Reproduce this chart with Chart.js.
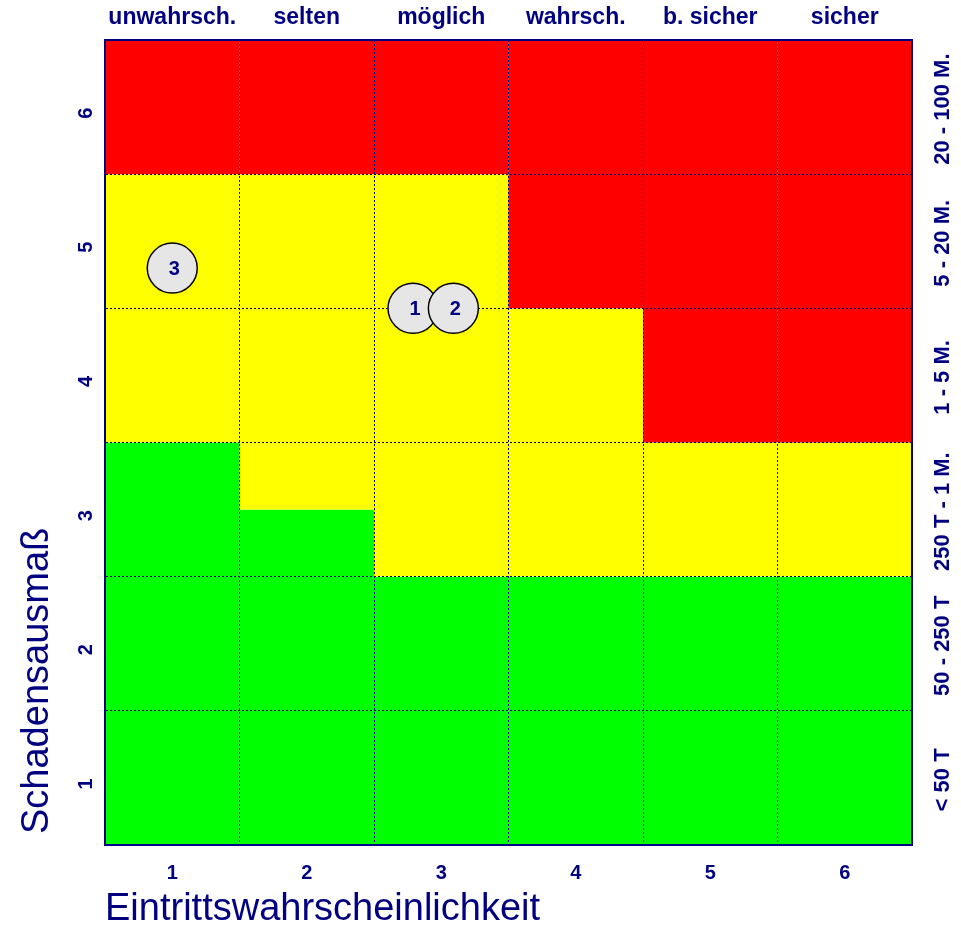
<!DOCTYPE html>
<html>
<head>
<meta charset="utf-8">
<script src="https://cdn.jsdelivr.net/npm/chart.js@4.4.0/dist/chart.umd.min.js"></script>
<style>
  html, body { margin: 0; padding: 0; background: #ffffff; }
  #wrap { width: 961px; height: 930px; position: relative; }
</style>
</head>
<body>
<div id="wrap"><canvas id="c"></canvas></div>
<script>
// ---- data ----
const probabilityTicks = [1, 2, 3, 4, 5, 6];
const probabilityLabels = ['unwahrsch.', 'selten', 'möglich', 'wahrsch.', 'b. sicher', 'sicher'];
const damageTicks = [1, 2, 3, 4, 5, 6];
const damageLabels = ['< 50 T', '50 - 250 T', '250 T - 1 M.', '1 - 5 M.', '5 - 20 M.', '20 - 100 M.'];
// upper limit (in damage units) of the green and yellow zone, per probability column
const greenUpper = [3.5, 3.0, 2.5, 2.5, 2.5, 2.5];
const yellowUpper = [5.5, 5.5, 5.5, 4.5, 3.5, 3.5];
// risks
const riskIds = ['1', '2', '3'];
const riskProbability = [2.79, 3.09, 1.0];
const riskDamage = [4.5, 4.5, 4.8];

const NAVY = '#000080';
const FONT = '"Liberation Sans", Arial, Helvetica, sans-serif';
const AXIS_MIN = 0.5, AXIS_MAX = 6.5;

const zonePlugin = {
  id: 'zones',
  beforeDraw(chart) {
    const {ctx, scales: {x, y}} = chart;
    ctx.save();
    probabilityTicks.forEach((p, i) => {
      const x0 = x.getPixelForValue(p - 0.5);
      const x1 = x.getPixelForValue(p + 0.5);
      const bands = [
        [AXIS_MIN, greenUpper[i], '#00ff00'],
        [greenUpper[i], yellowUpper[i], '#ffff00'],
        [yellowUpper[i], AXIS_MAX, '#ff0000']
      ];
      bands.forEach(([a, b, col]) => {
        if (b <= a) return;
        const yA = y.getPixelForValue(a);
        const yB = y.getPixelForValue(b);
        ctx.fillStyle = col;
        ctx.fillRect(x0, yB, x1 - x0, yA - yB);
      });
    });
    ctx.restore();
  }
};

const textPlugin = {
  id: 'texts',
  afterDraw(chart) {
    const {ctx, scales: {x, y}} = chart;
    ctx.save();
    // labels inside bubbles
    const meta = chart.getDatasetMeta(0);
    ctx.fillStyle = NAVY;
    ctx.font = 'bold 20px ' + FONT;
    ctx.textAlign = 'center';
    ctx.textBaseline = 'middle';
    meta.data.forEach((pt, i) => {
      ctx.fillText(riskIds[i], pt.x + 2, pt.y + 1);
    });
    // rotated left tick labels
    ctx.font = 'bold 20px ' + FONT;
    damageTicks.forEach((v) => {
      ctx.save();
      ctx.translate(86, y.getPixelForValue(v) + 6);
      ctx.rotate(-Math.PI / 2);
      ctx.fillText(String(v), 0, 0);
      ctx.restore();
    });
    // rotated right labels
    ctx.font = 'bold 22px ' + FONT;
    damageTicks.forEach((v, i) => {
      ctx.save();
      ctx.translate(943, y.getPixelForValue(v) + 2);
      ctx.rotate(-Math.PI / 2);
      ctx.fillText(damageLabels[i], 0, 0);
      ctx.restore();
    });
    // y axis title
    ctx.font = '38px ' + FONT;
    ctx.textAlign = 'left';
    ctx.save();
    ctx.translate(38, 834);
    ctx.rotate(-Math.PI / 2);
    ctx.fillText('Schadensausmaß', 0, 0);
    ctx.restore();
    ctx.restore();
  }
};

const fixedTicks = (vals) => (scale) => { scale.ticks = vals.map(v => ({value: v})); };
const gridOpts = {
  display: true, offset: true, drawTicks: false, color: NAVY, lineWidth: 1
};

new Chart(document.getElementById('c'), {
  type: 'scatter',
  data: {
    datasets: [{
      data: riskProbability.map((p, i) => ({x: p, y: riskDamage[i]})),
      backgroundColor: '#e6e6e6',
      borderColor: '#000000',
      borderWidth: 1.5,
      pointRadius: 25,
      pointHoverRadius: 25,
      clip: false
    }]
  },
  options: {
    responsive: true,
    maintainAspectRatio: false,
    animation: false,
    layout: { padding: 0 },
    plugins: { legend: { display: false }, tooltip: { enabled: false } },
    events: [],
    scales: {
      x: {
        type: 'linear', position: 'bottom', min: AXIS_MIN, max: AXIS_MAX,
        afterBuildTicks: fixedTicks(probabilityTicks),
        afterFit: (s) => { s.height = 85; },
        grid: gridOpts,
        border: { display: true, color: NAVY, width: 2, dash: [2, 2] },
        ticks: { color: NAVY, font: { family: FONT, size: 20, weight: 'bold' }, padding: 16, callback: (v) => String(v) },
        title: { display: true, text: 'Eintrittswahrscheinlichkeit', align: 'start', color: NAVY,
                 font: { family: FONT, size: 38, lineHeight: 1.0 }, padding: { top: 0, bottom: 1 } }
      },
      x2: {
        type: 'linear', position: 'top', min: AXIS_MIN, max: AXIS_MAX,
        afterBuildTicks: fixedTicks(probabilityTicks),
        afterFit: (s) => { s.height = 40; },
        grid: { display: false, drawTicks: false },
        border: { display: true, color: NAVY, width: 2 },
        ticks: { color: NAVY, font: { family: FONT, size: 23, weight: 'bold' }, padding: 9,
                 callback: (v) => probabilityLabels[probabilityTicks.indexOf(v)] }
      },
      y: {
        type: 'linear', position: 'left', min: AXIS_MIN, max: AXIS_MAX,
        afterBuildTicks: fixedTicks(damageTicks),
        afterFit: (s) => { s.width = 105; },
        grid: gridOpts,
        border: { display: true, color: NAVY, width: 2, dash: [2, 2] },
        ticks: { display: false }
      },
      y2: {
        type: 'linear', position: 'right', min: AXIS_MIN, max: AXIS_MAX,
        afterBuildTicks: fixedTicks(damageTicks),
        afterFit: (s) => { s.width = 49; },
        grid: { display: false, drawTicks: false },
        border: { display: true, color: NAVY, width: 2 },
        ticks: { display: false }
      }
    }
  },
  plugins: [zonePlugin, textPlugin]
});
</script>
</body>
</html>
